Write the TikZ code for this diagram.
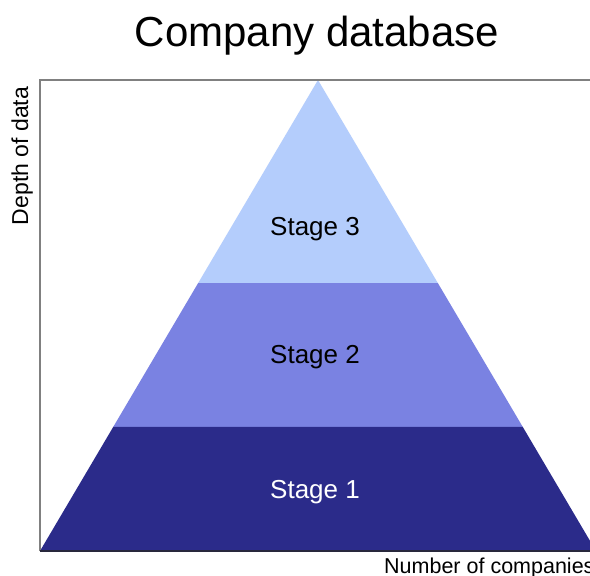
\documentclass[tikz,border=0pt]{standalone}
\usepackage{fontspec}
\setmainfont{Liberation Sans}
\usetikzlibrary{calc}
\definecolor{sthree}{RGB}{180,205,252}
\definecolor{stwo}{RGB}{122,130,226}
\definecolor{sone}{RGB}{43,43,138}
\definecolor{axisgray}{RGB}{128,128,128}
\definecolor{basedark}{RGB}{40,40,60}
\tikzset{
  stagelabel/.style={font=\fontsize{26}{30}\selectfont, inner sep=0pt},
  axislabel/.style={font=\fontsize{21.5}{26}\selectfont, inner sep=0pt},
}
\begin{document}
\begin{tikzpicture}[x=1pt,y=-1pt]
\useasboundingbox (0,0) rectangle (590,576);
\fill[white] (0,0) rectangle (590,576);
\coordinate (apex) at (318,80);
\coordinate (bl) at (40,551);
\coordinate (br) at (596,551);
\coordinate (l3) at ($(apex)!0.431!(bl)$);
\coordinate (r3) at ($(apex)!0.431!(br)$);
\coordinate (l2) at ($(apex)!0.7367!(bl)$);
\coordinate (r2) at ($(apex)!0.7367!(br)$);
\fill[sthree] (apex) -- (r3) -- (l3) -- cycle;
\fill[stwo] (l3) -- (r3) -- (r2) -- (l2) -- cycle;
\fill[sone] (l2) -- (r2) -- (br) -- (bl) -- cycle;
\coordinate (tl) at (40,80);
\coordinate (tr) at (592,80);
\coordinate (be) at (592,551);
\draw[axisgray, line width=1.8pt] (bl) -- (tl) -- (tr);
\draw[basedark, line width=1.8pt] (bl) -- (be);
\node[font=\fontsize{42}{48}\selectfont, inner sep=0pt] (title) at (317,36) {Company database};
\node[stagelabel] (s3) at (315,229) {Stage 3};
\node[stagelabel] (s2) at (315,357) {Stage 2};
\node[stagelabel, text=white] (s1) at (315,492) {Stage 1};
\node[font=\fontsize{23}{27}\selectfont, inner sep=0pt, rotate=90, anchor=south] (ylab) at (33,156) {Depth of data};
\node[axislabel, anchor=base west] (xlab) at (384,573) {Number of companies};
\end{tikzpicture}
\end{document}
